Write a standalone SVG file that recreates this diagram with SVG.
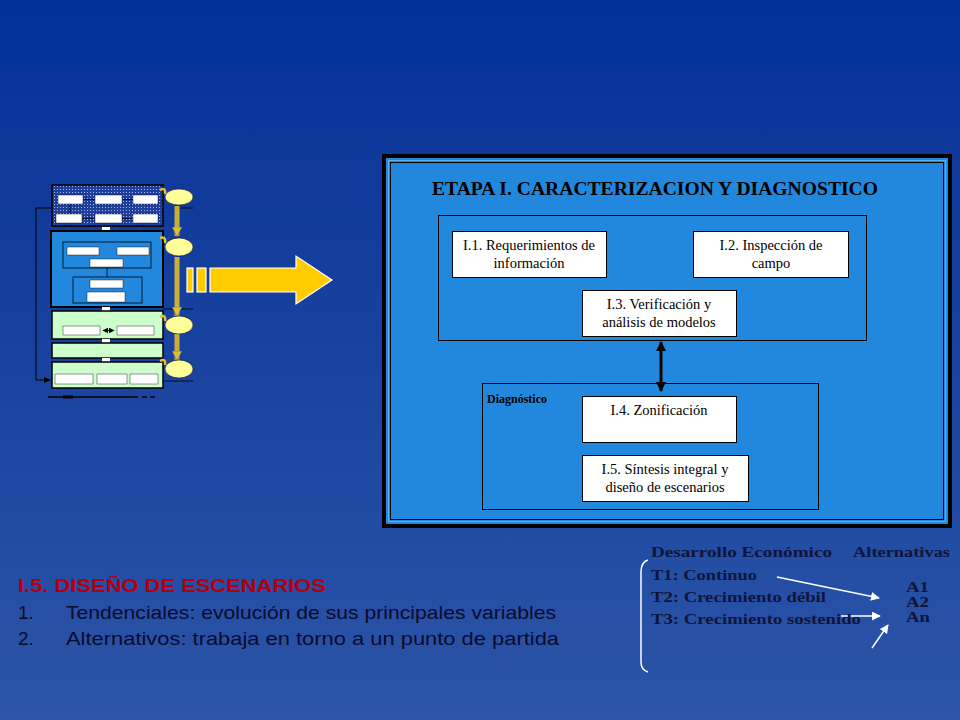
<svg xmlns="http://www.w3.org/2000/svg" width="960" height="720" viewBox="0 0 960 720">
<defs>
<linearGradient id="bg" x1="0" y1="0" x2="0" y2="1">
<stop offset="0" stop-color="#003399"/>
<stop offset="0.08" stop-color="#023399"/>
<stop offset="0.1" stop-color="#0a3498"/>
<stop offset="1" stop-color="#2c55a8"/>
</linearGradient>
<pattern id="dots" width="3" height="3" patternUnits="userSpaceOnUse">
<rect width="3" height="3" fill="#1f3f9f"/>
<rect width="1" height="1" fill="#a8b8e8"/>
</pattern>
<marker id="bh" viewBox="0 0 10 10" refX="9" refY="5" markerWidth="10" markerHeight="10" markerUnits="userSpaceOnUse" orient="auto-start-reverse">
<path d="M0,0 L10,5 L0,10 z" fill="#000"/>
</marker>
<marker id="wh" viewBox="0 0 10 10" refX="9" refY="5" markerWidth="9" markerHeight="9" markerUnits="userSpaceOnUse" orient="auto">
<path d="M0,0 L10,5 L0,10 z" fill="#fff"/>
</marker>
<marker id="th" viewBox="0 0 10 10" refX="9" refY="5" markerWidth="6" markerHeight="6" markerUnits="userSpaceOnUse" orient="auto-start-reverse">
<path d="M0,0 L10,5 L0,10 z" fill="#000"/>
</marker>
<marker id="yh" viewBox="0 0 10 10" refX="9" refY="5" markerWidth="10" markerHeight="10" markerUnits="userSpaceOnUse" orient="auto">
<path d="M0,0 L10,5 L0,10 z" fill="#d8c040" stroke="#555" stroke-width="0.5"/>
</marker>
</defs>
<style>
.box{fill:#ffffff;stroke:#000;stroke-width:1}
.grp{fill:none;stroke:#000;stroke-width:1}
.bt{font-family:"Liberation Serif","Times New Roman",serif;font-size:14.5px;fill:#000;text-anchor:middle}
.tb{fill:#fff;stroke:#000;stroke-width:0.4}
.gb{fill:#ccffcc;stroke:#000;stroke-width:1.5}
.ell{fill:#ffff99;stroke:#000;stroke-width:0.5}
.sans{font-family:"Liberation Sans",Arial,sans-serif;font-size:19px;fill:#0a0a2a}
.ser{font-family:"Liberation Serif","Times New Roman",serif;font-weight:bold;font-size:15.5px;fill:#10143a}
.alt{font-family:"Liberation Serif","Times New Roman",serif;font-weight:bold;font-size:15px;fill:#10143a}
</style>
<rect width="960" height="720" fill="url(#bg)"/>

<!-- thumbnail -->
<g id="thumbnail">
<path d="M52,208 H36 V380 H50" fill="none" stroke="#000" stroke-width="1"/>
<path d="M44,377 L51,380 L44,383 z" fill="#000"/>
<rect x="52" y="185" width="111" height="41" fill="url(#dots)" stroke="#000" stroke-width="1.5"/>
<rect class="tb" x="58" y="195" width="25" height="9"/>
<rect class="tb" x="95" y="195" width="27" height="9"/>
<rect class="tb" x="133" y="195" width="25" height="9"/>
<rect class="tb" x="56" y="214" width="26" height="9"/>
<rect class="tb" x="95" y="214" width="27" height="9"/>
<rect class="tb" x="133" y="214" width="25" height="9"/>
<path d="M95,199.5 H84 M133,199.5 H123 M82,218.5 H94 M122,218.5 H132 M70,204 V213" stroke="#000" stroke-width="0.8" fill="none"/>
<rect x="102" y="227" width="8" height="6" fill="#fff"/>
<rect x="51" y="231" width="112" height="76" fill="#2288dd" stroke="#000" stroke-width="2"/>
<rect x="63" y="242" width="88" height="26" fill="none" stroke="#000" stroke-width="0.8"/>
<rect class="tb" x="67" y="247" width="32" height="8"/>
<rect class="tb" x="117" y="247" width="32" height="8"/>
<rect class="tb" x="90" y="259" width="33" height="8"/>
<line x1="107" y1="268" x2="107" y2="277" stroke="#000" stroke-width="0.8"/>
<rect x="73" y="277" width="69" height="26" fill="none" stroke="#000" stroke-width="0.8"/>
<rect class="tb" x="90" y="280" width="33" height="8"/>
<rect class="tb" x="87" y="292" width="38" height="10"/>
<rect x="102" y="307" width="8" height="5" fill="#fff"/>
<rect class="gb" x="52" y="311" width="111" height="28"/>
<rect class="tb" x="63" y="326" width="37" height="9"/>
<rect class="tb" x="117" y="326" width="37" height="9"/>
<line x1="103" y1="330.5" x2="114" y2="330.5" stroke="#000" stroke-width="1" marker-start="url(#th)" marker-end="url(#th)"/>
<rect x="102" y="339" width="8" height="5" fill="#fff"/>
<rect class="gb" x="52" y="343" width="111" height="15"/>
<rect x="102" y="358" width="8" height="5" fill="#fff"/>
<rect class="gb" x="52" y="362" width="111" height="26"/>
<rect class="tb" x="55" y="374" width="38" height="10"/>
<rect class="tb" x="97" y="374" width="30" height="10"/>
<rect class="tb" x="130" y="374" width="28" height="10"/>
<path d="M48,397 H138 M142,397 H147 M150,397 H155" stroke="#000" stroke-width="1.5"/>
<rect x="63" y="395.5" width="10" height="3" fill="#000"/>
<g stroke="#000" stroke-width="0.8">
<line x1="175" y1="208" x2="193" y2="208"/>
<line x1="163" y1="309" x2="193" y2="309"/>
<line x1="163" y1="381" x2="193" y2="381"/>
</g>
<g stroke="#c8b038" stroke-width="5">
<line x1="177" y1="206" x2="177" y2="236" marker-end="url(#yh)"/>
<line x1="177" y1="257" x2="177" y2="316" marker-end="url(#yh)"/>
<line x1="177" y1="334" x2="177" y2="360" marker-end="url(#yh)"/>
</g>
<ellipse class="ell" cx="179" cy="197" rx="14" ry="8"/>
<ellipse class="ell" cx="179" cy="247" rx="14" ry="9"/>
<ellipse class="ell" cx="179" cy="325" rx="14" ry="9"/>
<ellipse class="ell" cx="179" cy="369" rx="14" ry="9"/>
<g fill="none" stroke="#e8c030" stroke-width="2.5">
<path d="M165,194 Q166,187 160,190"/>
<path d="M165,243 Q166,236 160,238"/>
<path d="M165,321 Q166,314 160,317"/>
<path d="M165,365 Q166,358 160,361"/>
</g>
</g>

<!-- big yellow arrow -->
<g id="bigArrow" fill="#ffcc00" stroke="#ffffff" stroke-width="1.2">
<rect x="187" y="268" width="6" height="24"/>
<rect x="197" y="268" width="9" height="24"/>
<path d="M210,268 H296 V256 L332,280 L296,304 V292 H210 z"/>
</g>

<!-- main frame -->
<g id="etapa">
<rect x="382" y="154" width="570" height="374" fill="#000"/>
<rect x="386" y="158" width="562" height="366" fill="#2288dd"/>
<rect x="388.5" y="160.5" width="557" height="361" fill="none" stroke="#8fd8ff" stroke-width="1" stroke-dasharray="1 1"/>
<rect x="390.5" y="162.5" width="553" height="357" fill="none" stroke="#000" stroke-width="1"/>
<text x="655" y="195" text-anchor="middle" font-family="'Liberation Serif','Times New Roman',serif" font-weight="bold" font-size="18" fill="#000" textLength="446" lengthAdjust="spacingAndGlyphs">ETAPA I.  CARACTERIZACION Y DIAGNOSTICO</text>
</g>

<g id="caracterizacion">
<rect class="grp" x="438.5" y="215.5" width="428" height="125"/>
</g>
<g id="n11">
<rect class="box" x="452.5" y="231.5" width="154" height="46"/>
<text class="bt" x="529" y="250">I.1. Requerimientos de</text>
<text class="bt" x="529" y="268">información</text>
</g>
<g id="n12">
<rect class="box" x="693.5" y="231.5" width="155" height="46"/>
<text class="bt" x="771" y="250">I.2. Inspección de</text>
<text class="bt" x="771" y="268">campo</text>
</g>
<g id="n13">
<rect class="box" x="582.5" y="290.5" width="154" height="46"/>
<text class="bt" x="659" y="309">I.3. Verificación y</text>
<text class="bt" x="659" y="327">análisis de modelos</text>
</g>

<g id="diagnostico">
<rect class="grp" x="482.5" y="383.5" width="336" height="126"/>
<text x="487" y="403" font-family="'Liberation Serif','Times New Roman',serif" font-weight="bold" font-size="12" fill="#000">Diagnóstico</text>
</g>
<g id="n14">
<rect class="box" x="582.5" y="396.5" width="154" height="46"/>
<text class="bt" x="659" y="415">I.4.  Zonificación</text>
</g>
<g id="n15">
<rect class="box" x="582.5" y="455.5" width="166" height="46"/>
<text class="bt" x="665" y="474">I.5. Síntesis integral y</text>
<text class="bt" x="665" y="492">diseño de escenarios</text>
</g>

<g id="connectors">
<line x1="661" y1="342" x2="661" y2="391" stroke="#000" stroke-width="3" marker-start="url(#bh)" marker-end="url(#bh)"/>
<g stroke="#fff" stroke-width="1.5" fill="none">
<line x1="777" y1="577" x2="879" y2="598" marker-end="url(#wh)"/>
<line x1="841" y1="616" x2="880" y2="616" marker-end="url(#wh)"/>
<line x1="872" y1="648" x2="888" y2="625" marker-end="url(#wh)"/>
<path d="M648,560 Q641,562 641,572 L641,662 Q641,670 648,672"/>
</g>
</g>

<!-- bottom-left text -->
<g id="escenarios">
<text x="18" y="592" font-family="'Liberation Sans',Arial,sans-serif" font-weight="bold" font-size="19" fill="#b00010" textLength="308" lengthAdjust="spacingAndGlyphs">I.5. DISEÑO DE ESCENARIOS</text>
<text class="sans" x="18" y="619">1.</text>
<text class="sans" x="66" y="619" textLength="490" lengthAdjust="spacingAndGlyphs">Tendenciales:  evolución de sus principales variables</text>
<text class="sans" x="18" y="645">2.</text>
<text class="sans" x="66" y="645" textLength="493" lengthAdjust="spacingAndGlyphs">Alternativos:  trabaja en torno a un punto de partida</text>
</g>

<!-- bottom-right text -->
<g id="alternativas">
<text class="ser" x="651" y="557" textLength="181" lengthAdjust="spacingAndGlyphs">Desarrollo Económico</text>
<text class="ser" x="853" y="557" textLength="97" lengthAdjust="spacingAndGlyphs">Alternativas</text>
<text class="ser" x="651" y="580" textLength="106" lengthAdjust="spacingAndGlyphs">T1: Continuo</text>
<text class="ser" x="651" y="602" textLength="175" lengthAdjust="spacingAndGlyphs">T2: Crecimiento débil</text>
<text class="ser" x="651" y="624" textLength="210" lengthAdjust="spacingAndGlyphs">T3: Crecimiento sostenido</text>
<text class="alt" x="906" y="592" textLength="23" lengthAdjust="spacingAndGlyphs">A1</text>
<text class="alt" x="906" y="607" textLength="23" lengthAdjust="spacingAndGlyphs">A2</text>
<text class="alt" x="906" y="622" textLength="24" lengthAdjust="spacingAndGlyphs">An</text>
</g>
</svg>
